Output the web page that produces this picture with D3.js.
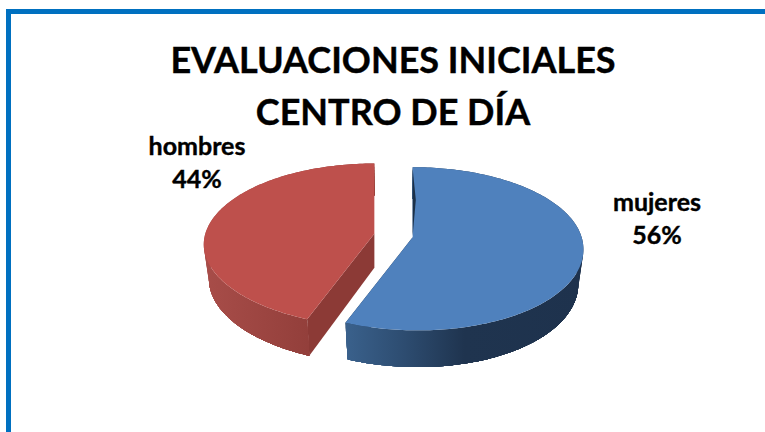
<!DOCTYPE html>
<html>
<head>
<meta charset="utf-8">
<script src="https://cdnjs.cloudflare.com/ajax/libs/d3/7.8.5/d3.min.js"></script>
<style>
  html, body { margin: 0; padding: 0; background: #fff; overflow: hidden; }
  text { font-family: Lato, "Open Sans", sans-serif; font-weight: 700; fill: #000; stroke: #000; stroke-width: 0.4px; text-anchor: middle; }
</style>
</head>
<body>
<svg id="chart" width="765" height="432"></svg>
<script>
var titleLines = ['EVALUACIONES INICIALES', 'CENTRO DE DÍA'];
var categories = ['mujeres', 'hombres'];
var values = [56, 44];

var colors = {
    mujeres: { top: '#4f81bd', cut: '#1b3048', wall: ['#3a618c', '#2d4c70', '#1f344f', '#1e324d'] },
    hombres: { top: '#be504c', cut: '#8c3a36', wall: ['#a84d49', '#9c4541', '#903d39', '#88362f'] }
};

var svg = d3.select('#chart');
var defs = svg.append('defs');

// frame runs off the right and bottom of the picture
svg.append('rect').attr('x', 8.5).attr('y', 11.5).attr('width', 800).attr('height', 500)
    .attr('fill', '#fff').attr('stroke', '#0070c0').attr('stroke-width', 5);

var title = svg.append('g');
title.selectAll('text').data(titleLines).enter().append('text')
    .attr('x', 393)
    .attr('y', function(d, i) { return 73 + i * 52; })
    .style('font-size', '36px')
    .text(function(d) { return d; });

// 3d pie, tilted with a bit of perspective
var cx = 393.5, cy = 235.5, rx = 169, ry = 80, persp = 0.14, depth = 34, shear = 5, explode = 19.5;

function project(o, a, r, z) {
    var u = Math.sin(a) * r, v = -Math.cos(a) * r;
    var k = 1 / (1 - persp * v);
    var s = 1 - z * 0.03;
    var lean = v > 0 ? v * v : 0;
    return [
        o[0] + s * rx * u * k + shear * lean,
        o[1] + s * ry * v * k + z * depth * k
    ];
}

function range(a0, a1) {
    var n = Math.max(2, Math.ceil(Math.abs(a1 - a0) / 0.02));
    return d3.range(n + 1).map(function(i) { return a0 + (a1 - a0) * i / n; });
}

var pie = d3.pie().sort(null).value(function(d) { return d; });
var arcs = pie(values);
var line = d3.line();

var slices = arcs.map(function(d, i) {
    var mid = (d.startAngle + d.endAngle) / 2;
    return {
        name: categories[i],
        a0: d.startAngle,
        a1: d.endAngle,
        o: [cx + Math.sin(mid) * explode, cy - Math.cos(mid) * explode * 0.5]
    };
});

slices.forEach(function(s) {
    var c = colors[s.name];
    var g = svg.append('g').attr('class', 'slice-' + s.name);
    var angles = range(s.a0, s.a1);
    var xs = angles.map(function(a) { return project(s.o, a, 1, 0)[0]; });
    var x0 = d3.min(xs), x1 = d3.max(xs);

    var grad = defs.append('linearGradient').attr('id', 'wall-' + s.name)
        .attr('gradientUnits', 'userSpaceOnUse')
        .attr('x1', x0).attr('x2', x1).attr('y1', 0).attr('y2', 0);
    var stops = s.name === 'mujeres' ? [0, 0.25, 0.5, 1] : [0, 0.35, 0.7, 1];
    stops.forEach(function(t, i) {
        grad.append('stop').attr('offset', t).attr('stop-color', c.wall[i]);
    });

    // cut faces first, then the outer wall, then the top
    [s.a0, s.a1].forEach(function(a) {
        g.append('path').attr('fill', c.cut).attr('d', line([
            project(s.o, a, 0, 0), project(s.o, a, 1, 0),
            project(s.o, a, 1, 1), project(s.o, a, 0, 1)
        ]) + 'Z');
    });

    // wall is stacked in layers so its silhouette stays smooth at the sides
    var botEdge = angles.map(function(a) { return project(s.o, a, 1, 1); }).reverse();
    d3.range(0, 1, 0.1).forEach(function(z) {
        var edge = angles.map(function(a) { return project(s.o, a, 1, z); });
        g.append('path').attr('fill', 'url(#wall-' + s.name + ')')
            .attr('d', line(edge.concat(botEdge)) + 'Z');
    });

    var topEdge = angles.map(function(a) { return project(s.o, a, 1, 0); });
    var face = [project(s.o, 0, 0, 0)].concat(topEdge);
    g.append('path').attr('fill', c.top).attr('d', line(face) + 'Z');
});

// thin dark sliver of the inner wall, right of the blue slice's back edge
var blue = slices[0];
svg.select('.slice-mujeres').append('path').attr('fill', colors.mujeres.cut)
    .attr('d', line([
        project(blue.o, blue.a0, 0.02, 0),
        project(blue.o, blue.a0, 0.98, 0),
        project(blue.o, blue.a0 + 0.04, 0.5, 0)
    ]) + 'Z');

var labelPos = { mujeres: [657, 211], hombres: [197, 155] };
categories.forEach(function(name, i) {
    var p = labelPos[name];
    var t = svg.append('g');
    t.append('text').attr('x', p[0]).attr('y', p[1]).style('font-size', '25px').text(name);
    t.append('text').attr('x', p[0]).attr('y', p[1] + 33).style('font-size', '25px').text(values[i] + '%');
});
</script>
</body>
</html>
